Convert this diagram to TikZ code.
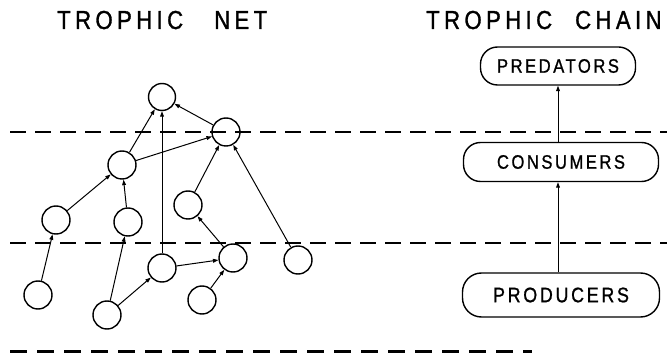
\documentclass[tikz,border=0pt]{standalone}
\usepackage{fontspec}
\setmainfont{Liberation Sans}
\newfontfamily\titlefont[LetterSpace=17,FakeStretch=0.85,FakeBold=1.2]{Liberation Sans}
\newfontfamily\boxfont[LetterSpace=13,FakeStretch=0.85,FakeBold=1]{Liberation Sans}
\usetikzlibrary{arrows.meta}
\begin{document}
\begin{tikzpicture}[x=1pt,y=-1pt,
  sp/.style={circle,draw,line width=1.4pt,minimum size=28pt,inner sep=0pt},
  arr/.style={-{Triangle[length=5.5pt,width=3.8pt]},line width=1pt},
  lvl/.style={draw,line width=1.4pt,rounded corners=17pt,inner sep=0pt,font=\boxfont\fontsize{19.5}{21}\selectfont},
  sep/.style={line width=1.1pt,dash pattern=on 16pt off 9pt},
  base/.style={line width=3pt,dash pattern=on 17pt off 10pt},
  ttl/.style={font=\titlefont\fontsize{26}{28}\selectfont,inner sep=0pt,anchor=base west}]
\useasboundingbox (0,0) rectangle (667,355);
% titles
\node[ttl] (t1a) at (57,29) {TROPHIC};
\node[ttl] (t1b) at (214,29) {NET};
\node[ttl] (t2a) at (426,29) {TROPHIC};
\node[ttl] (t2b) at (575,29) {CHAIN};
% level separators
\coordinate (s1l) at (10,132); \coordinate (s1r) at (667,132);
\coordinate (s2l) at (10,243); \coordinate (s2r) at (667,243);
\coordinate (bl) at (10,352); \coordinate (br) at (532,352);
\draw[sep] (s1l) -- (s1r);
\draw[sep] (s2l) -- (s2r);
\draw[base] (bl) -- (br);
% trophic net
\node[sp,minimum size=27pt] (A) at (162,97) {};
\node[sp] (B) at (226,132) {};
\node[sp] (C) at (122,165) {};
\node[sp] (D) at (56,220) {};
\node[sp] (E) at (128,222) {};
\node[sp] (F) at (188,205) {};
\node[sp] (G) at (38,295) {};
\node[sp] (H) at (107,315) {};
\node[sp] (I) at (162,268) {};
\node[sp] (J) at (233,258) {};
\node[sp] (K) at (202,300) {};
\node[sp] (L) at (298,260) {};
\draw[arr] (C) -- (A);
\draw[arr] (I) -- (A);
\draw[arr] (B) -- (A);
\draw[arr] (C) -- (B);
\draw[arr] (D) -- (C);
\draw[arr] (E) -- (C);
\draw[arr] (G) -- (D);
\draw[arr] (H) -- (E);
\draw[arr] (H) -- (I);
\draw[arr] (I) -- (J);
\draw[arr] (K) -- (J);
\draw[arr] (J) -- (F);
\draw[arr] (F) -- (B);
\draw[arr] (L) -- (B);
% trophic chain
\node[lvl,minimum width=155pt,minimum height=38pt] (pred) at (558,66) {PREDATORS};
\node[lvl,minimum width=195pt,minimum height=39pt] (cons) at (561,162) {CONSUMERS};
\node[lvl,minimum width=197pt,minimum height=44pt,rounded corners=19pt,font=\boxfont\fontsize{21}{23}\selectfont] (prod) at (561,295) {PRODUCERS};
\draw[arr] (cons.north -| pred.south) -- (pred.south);
\draw[arr] (prod.north -| pred.south) -- (cons.south -| pred.south);
\end{tikzpicture}
\end{document}
